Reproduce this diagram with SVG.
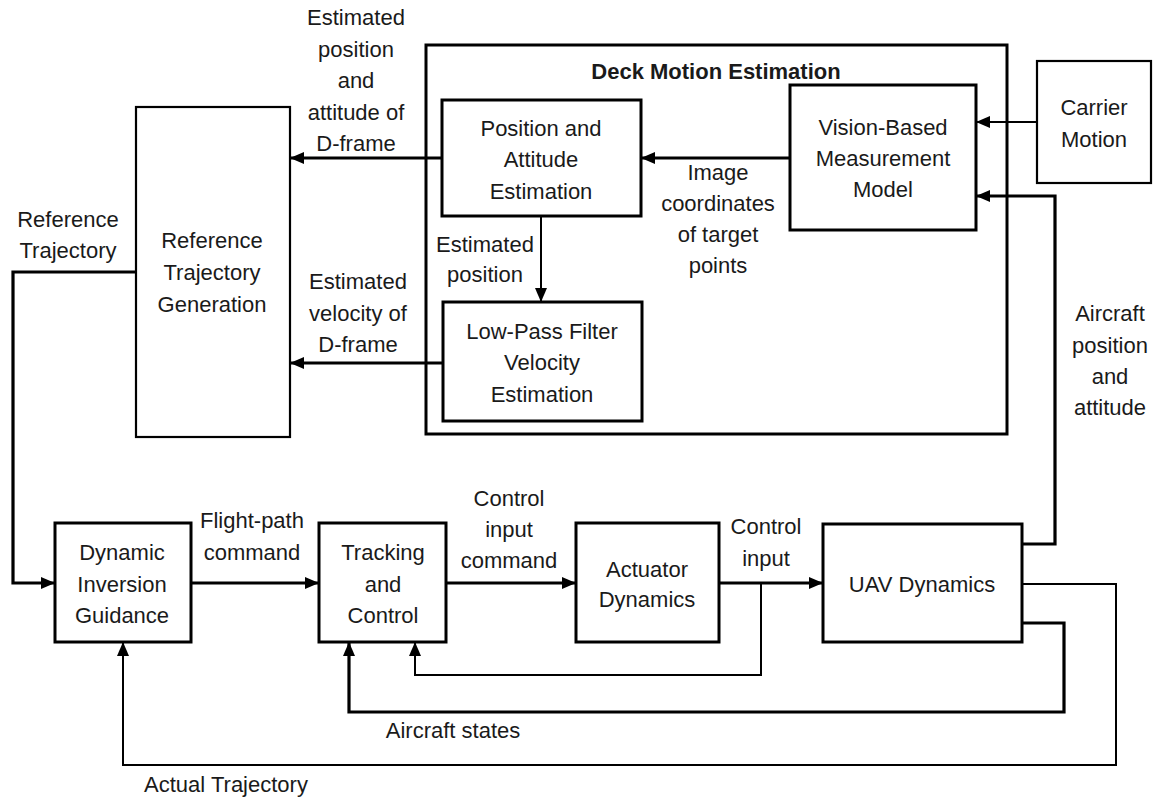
<svg xmlns="http://www.w3.org/2000/svg" width="1156" height="799" viewBox="0 0 1156 799">
<defs>
<style>
text{font-family:"Liberation Sans",Arial,sans-serif;font-size:22px;fill:#1a1a1a;text-anchor:middle}
.b{font-weight:bold}
.box{fill:none;stroke:#000;stroke-width:3}
.box2{fill:none;stroke:#000;stroke-width:2.2}
.w{fill:none;stroke:#000;stroke-width:3.2;stroke-linejoin:miter}
.t{fill:none;stroke:#000;stroke-width:2;stroke-linejoin:miter}
</style>
<marker id="ah" markerUnits="userSpaceOnUse" markerWidth="14" markerHeight="12" viewBox="0 0 14 12" refX="13" refY="6" orient="auto">
<path d="M0,0 L14,6 L0,12 Z" fill="#000"/>
</marker>
</defs>
<g id="connectors">
<path class="w" d="M442,158 H291" marker-end="url(#ah)"/>
<path class="w" d="M443,363 H291" marker-end="url(#ah)"/>
<path class="w" d="M790,158 H642" marker-end="url(#ah)"/>
<path class="t" d="M541,216 V301" marker-end="url(#ah)"/>
<path class="t" d="M1037,122 H977" marker-end="url(#ah)"/>
<path class="w" d="M1022,544 H1055 V196 H977" marker-end="url(#ah)"/>
<path class="w" d="M136,272 H13 V583 H54" marker-end="url(#ah)"/>
<path class="w" d="M191,583 H318" marker-end="url(#ah)"/>
<path class="w" d="M446,583 H575" marker-end="url(#ah)"/>
<path class="w" d="M719,583 H822" marker-end="url(#ah)"/>
<path class="t" d="M761,583 V675 H415 V643" marker-end="url(#ah)"/>
<path class="w" d="M1022,623 H1064 V712 H349 V643" marker-end="url(#ah)"/>
<path class="t" d="M1022,584 H1116 V765 H123 V643" marker-end="url(#ah)"/>
</g>
<g id="deck-motion-estimation">
<rect class="box" x="426" y="45" width="581" height="389"/>
<text class="b" x="716" y="79">Deck Motion Estimation</text>
</g>
<g id="reference-trajectory-generation">
<rect class="box2" x="136" y="107" width="154" height="330"/>
<text x="212" y="248">Reference</text>
<text x="212" y="280">Trajectory</text>
<text x="212" y="312">Generation</text>
</g>
<g id="position-attitude-estimation">
<rect class="box" x="442" y="100" width="199" height="116"/>
<text x="541" y="136">Position and</text>
<text x="541" y="167">Attitude</text>
<text x="541" y="199">Estimation</text>
</g>
<g id="vision-based-measurement-model">
<rect class="box" x="790" y="85" width="186" height="145"/>
<text x="883" y="135">Vision-Based</text>
<text x="883" y="166">Measurement</text>
<text x="883" y="197">Model</text>
</g>
<g id="low-pass-filter">
<rect class="box" x="443" y="302" width="199" height="119"/>
<text x="542" y="339">Low-Pass Filter</text>
<text x="542" y="370">Velocity</text>
<text x="542" y="402">Estimation</text>
</g>
<g id="carrier-motion">
<rect class="box2" x="1037" y="61" width="114" height="122"/>
<text x="1094" y="115">Carrier</text>
<text x="1094" y="147">Motion</text>
</g>
<g id="dynamic-inversion-guidance">
<rect class="box" x="55" y="523" width="136" height="119"/>
<text x="122" y="560">Dynamic</text>
<text x="122" y="592">Inversion</text>
<text x="122" y="623">Guidance</text>
</g>
<g id="tracking-control">
<rect class="box" x="319" y="523" width="127" height="119"/>
<text x="383" y="560">Tracking</text>
<text x="383" y="592">and</text>
<text x="383" y="623">Control</text>
</g>
<g id="actuator-dynamics">
<rect class="box" x="576" y="523" width="143" height="119"/>
<text x="647" y="577">Actuator</text>
<text x="647" y="607">Dynamics</text>
</g>
<g id="uav-dynamics">
<rect class="box" x="823" y="524" width="199" height="118"/>
<text x="922" y="592">UAV Dynamics</text>
</g>
<g id="labels">
<text x="356" y="25">Estimated</text>
<text x="356" y="57">position</text>
<text x="356" y="88">and</text>
<text x="356" y="120">attitude of</text>
<text x="356" y="151">D-frame</text>
<text x="358" y="289">Estimated</text>
<text x="358" y="321">velocity of</text>
<text x="358" y="352">D-frame</text>
<text x="68" y="227">Reference</text>
<text x="68" y="258">Trajectory</text>
<text x="718" y="180">Image</text>
<text x="718" y="211">coordinates</text>
<text x="718" y="242">of target</text>
<text x="718" y="273">points</text>
<text x="485" y="252">Estimated</text>
<text x="485" y="282">position</text>
<text x="1110" y="321">Aircraft</text>
<text x="1110" y="353">position</text>
<text x="1110" y="384">and</text>
<text x="1110" y="415">attitude</text>
<text x="252" y="528">Flight-path</text>
<text x="252" y="560">command</text>
<text x="509" y="506">Control</text>
<text x="509" y="537">input</text>
<text x="509" y="568">command</text>
<text x="766" y="534">Control</text>
<text x="766" y="566">input</text>
<text x="453" y="738">Aircraft states</text>
<text x="226" y="792">Actual Trajectory</text>
</g>
</svg>
